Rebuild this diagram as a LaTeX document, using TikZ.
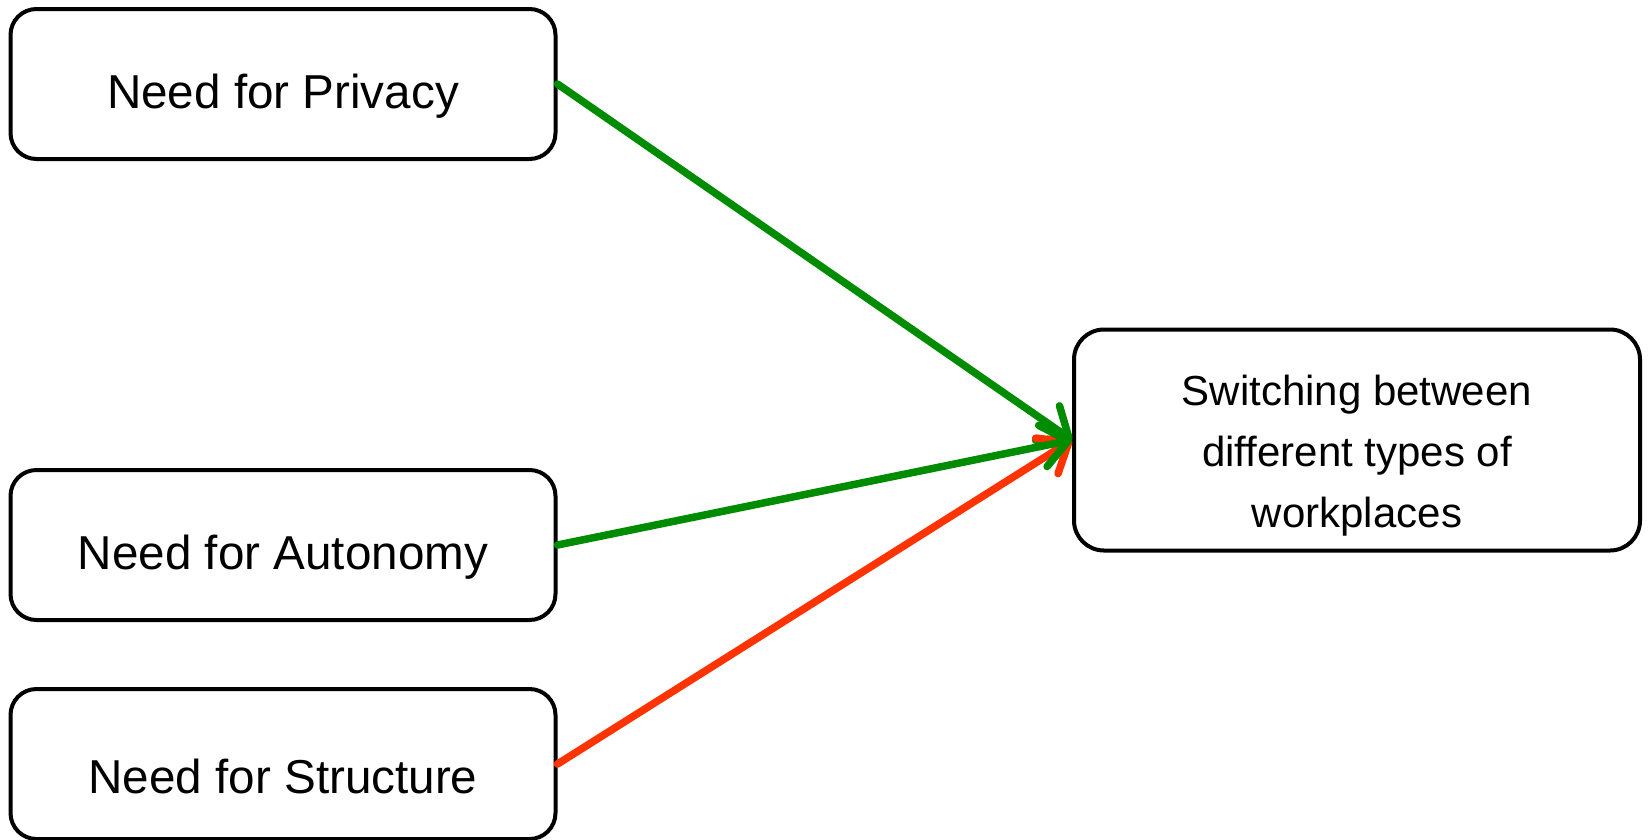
\documentclass[tikz,border=0pt]{standalone}
\usepackage{fontspec}
\setmainfont{Liberation Sans}
\usetikzlibrary{arrows.meta}
\definecolor{arrgreen}{RGB}{0,140,0}
\definecolor{arrred}{RGB}{255,51,0}
\newcommand{\lowertext}[2]{\raisebox{-#1}[\height][\depth]{#2}}
\begin{document}
\begin{tikzpicture}[x=1pt,y=-1pt,
  srcbox/.style={draw=black,line width=4pt,rounded corners=26pt,fill=white,
    minimum width=545pt,minimum height=150pt,inner sep=0pt,
    font=\fontsize{47.6}{57}\selectfont},
  tgtbox/.style={draw=black,line width=4pt,rounded corners=30pt,fill=white,
    minimum width=566pt,minimum height=221pt,inner sep=0pt,
    font=\fontsize{42}{61}\selectfont},
  link/.style={line width=7.5pt,line cap=round,
    -{Straight Barb[length=26pt,width=42pt,round]}}]
\useasboundingbox (0,0) rectangle (1648,839);
\node[srcbox] (priv) at (283,84) {\lowertext{12pt}{Need for Privacy}};
\node[srcbox] (auto) at (283,545) {\lowertext{12pt}{Need for Autonomy}};
\node[srcbox] (struc) at (283,764) {\lowertext{12pt}{Need for Structure}};
\node[tgtbox] (sw) at (1357,440) {\lowertext{14pt}{\begin{tabular}{@{}c@{}}Switching between\\different types of\\workplaces\end{tabular}}};
\draw[link,arrgreen] (priv.east) -- (sw.west);
\draw[link,arrred] (struc.east) -- (sw.west);
\draw[link,arrgreen] (auto.east) -- (sw.west);
\end{tikzpicture}
\end{document}
